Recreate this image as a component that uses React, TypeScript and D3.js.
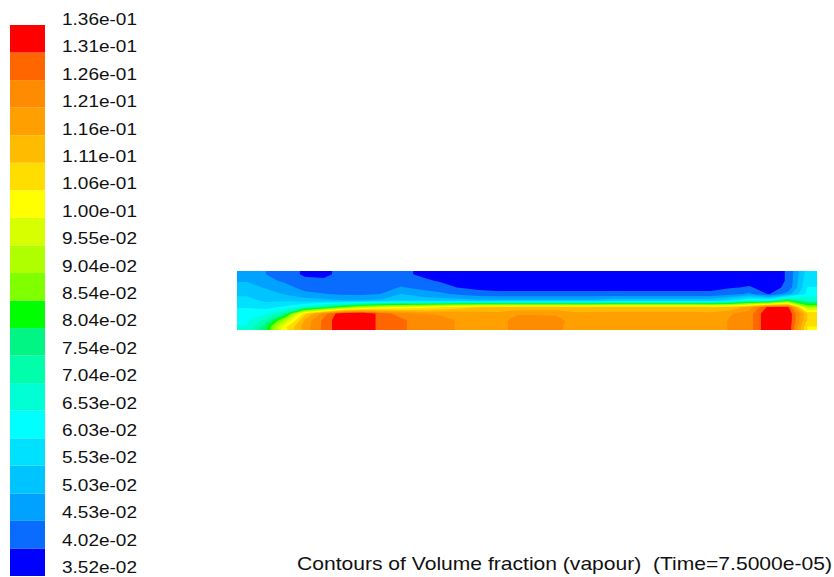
import React, { useEffect, useRef } from "react";
import * as d3 from "d3";

const W = 834;
const H = 577;

// colour bar labels, printed top to bottom
const levelLabels = [
  "1.36e-01", "1.31e-01", "1.26e-01", "1.21e-01", "1.16e-01", "1.11e-01", "1.06e-01",
  "1.00e-01", "9.55e-02", "9.04e-02", "8.54e-02", "8.04e-02", "7.54e-02", "7.04e-02",
  "6.53e-02", "6.03e-02", "5.53e-02", "5.03e-02", "4.53e-02", "4.02e-02", "3.52e-02",
];

// band colours, lowest band first
const bandColors = [
  "#0000ff", "#0a6cff", "#00a2ff", "#00c4ff", "#00e0ff",
  "#00ffff", "#00ffd4", "#00ffaa", "#00f584", "#00ff00",
  "#80ff00", "#b0ff00", "#d8ff00", "#ffff00", "#ffdd00",
  "#ffbb00", "#ffa000", "#ff8c00", "#ff6600", "#ff0000",
];

// vapour volume fraction, one list per column of the domain (left to right),
// each list read from the top wall down to the bottom wall
const fieldColumns: number[][] = [
  [0.0478, 0.0498, 0.0524, 0.0544, 0.0569, 0.0599, 0.0624, 0.0645, 0.0655],
  [0.0453, 0.0468, 0.0498, 0.0524, 0.0544, 0.0584, 0.0645, 0.0715, 0.0796],
  [0.0423, 0.0443, 0.0473, 0.0498, 0.0544, 0.0614, 0.0756, 0.0932, 0.1048],
  [0.0395, 0.0413, 0.0433, 0.0468, 0.0529, 0.0680, 0.1084, 0.1169, 0.1184],
  [0.0387, 0.0413, 0.0428, 0.0455, 0.0518, 0.0756, 0.1235, 0.1275, 0.1275],
  [0.0423, 0.0418, 0.0423, 0.0443, 0.0505, 0.0857, 0.136, 0.136, 0.136],
  [0.0418, 0.0418, 0.0423, 0.0443, 0.0505, 0.0932, 0.136, 0.136, 0.136],
  [0.0418, 0.0418, 0.0428, 0.0455, 0.0513, 0.0983, 0.1285, 0.1285, 0.1285],
  [0.0413, 0.0423, 0.0458, 0.0505, 0.0544, 0.1008, 0.1235, 0.127, 0.127],
  [0.0395, 0.0413, 0.0438, 0.0478, 0.0534, 0.1033, 0.1212, 0.1235, 0.1235],
  [0.0377, 0.0397, 0.0423, 0.0463, 0.0529, 0.1058, 0.1205, 0.1225, 0.1225],
  [0.0372, 0.0382, 0.0399, 0.0443, 0.0524, 0.1084, 0.1195, 0.1205, 0.1205],
  [0.0372, 0.0377, 0.0387, 0.0423, 0.0518, 0.1109, 0.1179, 0.1184, 0.1184],
  [0.0372, 0.0372, 0.0382, 0.0418, 0.0513, 0.1119, 0.1174, 0.1189, 0.1189],
  [0.0372, 0.0372, 0.0382, 0.0418, 0.0513, 0.1119, 0.1205, 0.123, 0.123],
  [0.0372, 0.0372, 0.0382, 0.0418, 0.0513, 0.1119, 0.1205, 0.123, 0.123],
  [0.0372, 0.0372, 0.0382, 0.0418, 0.0513, 0.1119, 0.12, 0.123, 0.1225],
  [0.0372, 0.0372, 0.0382, 0.0418, 0.0513, 0.1119, 0.1174, 0.1184, 0.1184],
  [0.0372, 0.0372, 0.0382, 0.0418, 0.0513, 0.1119, 0.1174, 0.1184, 0.1184],
  [0.0372, 0.0372, 0.0382, 0.0418, 0.0534, 0.1119, 0.1174, 0.1179, 0.1179],
  [0.0372, 0.0372, 0.0382, 0.0418, 0.0534, 0.1119, 0.1174, 0.1179, 0.1179],
  [0.0372, 0.0372, 0.0382, 0.0418, 0.0534, 0.1119, 0.1174, 0.1179, 0.1179],
  [0.0372, 0.0372, 0.0382, 0.0418, 0.0534, 0.1119, 0.1174, 0.1179, 0.1179],
  [0.0372, 0.0372, 0.0382, 0.0418, 0.0534, 0.1119, 0.1174, 0.1179, 0.1179],
  [0.0377, 0.0377, 0.0382, 0.0418, 0.0534, 0.1109, 0.1174, 0.1179, 0.1179],
  [0.0377, 0.0382, 0.0397, 0.0433, 0.0579, 0.1109, 0.1205, 0.1215, 0.1215],
  [0.0377, 0.0382, 0.0407, 0.0463, 0.0655, 0.1184, 0.1235, 0.1235, 0.1235],
  [0.0377, 0.0377, 0.0382, 0.0397, 0.0655, 0.1326, 0.136, 0.136, 0.136],
  [0.0407, 0.0407, 0.0413, 0.0478, 0.0806, 0.1321, 0.136, 0.136, 0.136],
  [0.0579, 0.0594, 0.0604, 0.0619, 0.0705, 0.0907, 0.1109, 0.1109, 0.1058],
];

const title = "Contours of Volume fraction (vapour)  (Time=7.5000e-05)";

export default function App() {
  const svgRef = useRef<SVGSVGElement>(null);

  useEffect(() => {
    if (!svgRef.current) return;
    const svg = d3.select(svgRef.current);
    svg.selectAll("*").remove();

    svg.append("rect").attr("width", W).attr("height", H).attr("fill", "#fff");

    const font = "'Liberation Sans', Arial, Helvetica, sans-serif";
    const levels = levelLabels.map(Number).sort((a, b) => a - b);
    const nBands = levels.length - 1;

    // colour bar: bands and labels are evenly spaced by index
    const bandY = d3.scaleLinear().domain([0, nBands]).range([576, 25]);
    const labelY = d3.scaleLinear().domain([0, nBands]).range([573, 25]);

    const bar = svg.append("g");
    bar
      .selectAll("rect")
      .data(d3.range(nBands))
      .join("rect")
      .attr("x", 10)
      .attr("width", 35)
      .attr("y", (i) => bandY(i + 1))
      .attr("height", (i) => bandY(i) - bandY(i + 1))
      .attr("fill", (i) => bandColors[i]);

    bar
      .selectAll("text")
      .data(levelLabels)
      .join("text")
      .attr("x", 62)
      .attr("y", (d, i) => labelY(nBands - i))
      .attr("font-family", font)
      .attr("font-size", 17)
      .attr("textLength", 75)
      .attr("lengthAdjust", "spacingAndGlyphs")
      .attr("fill", "#111")
      .text((d) => d);

    // contour field: pad the grid by one cell on every side (edge values
    // repeated) so the contours reach the corners, then clip to the domain
    const nx = fieldColumns.length;
    const ny = fieldColumns[0].length;
    const px = nx + 2;
    const py = ny + 2;
    const values: number[] = new Array(px * py);
    for (let j = 0; j < py; j++) {
      for (let i = 0; i < px; i++) {
        const ci = Math.min(nx - 1, Math.max(0, i - 1));
        const cj = Math.min(ny - 1, Math.max(0, j - 1));
        values[j * px + i] = fieldColumns[ci][cj];
      }
    }

    const x = d3.scaleLinear().domain([1, nx + 1]).range([237, 817]);
    const y = d3.scaleLinear().domain([1, ny + 1]).range([271, 330]);

    const contours = d3
      .contours()
      .size([px, py])
      .thresholds(levels.slice(0, -1))(values);

    const path = d3.geoPath(
      d3.geoTransform({
        point(gx: number, gy: number) {
          this.stream.point(x(gx), y(gy));
        },
      })
    );

    svg
      .append("clipPath")
      .attr("id", "domain-clip")
      .append("rect")
      .attr("x", x(1))
      .attr("y", y(1))
      .attr("width", x(nx + 1) - x(1))
      .attr("height", y(ny + 1) - y(1));

    svg
      .append("g")
      .attr("clip-path", "url(#domain-clip)")
      .selectAll("path")
      .data(contours)
      .join("path")
      .attr("d", path as any)
      .attr("fill", (d, i) => bandColors[i]);

    // title
    svg
      .append("text")
      .attr("x", 297)
      .attr("y", 570)
      .attr("font-family", font)
      .attr("font-size", 19)
      .attr("textLength", 535)
      .attr("lengthAdjust", "spacingAndGlyphs")
      .attr("fill", "#111")
      .style("white-space", "pre")
      .text(title);
  }, []);

  return (
    <div style={{ position: "fixed", left: 0, top: 0, width: W, height: H }}>
      <svg ref={svgRef} width={W} height={H} style={{ display: "block" }} />
    </div>
  );
}
